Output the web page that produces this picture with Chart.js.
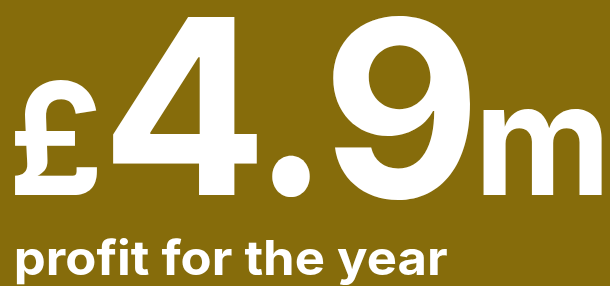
<!DOCTYPE html>
<html lang="en">
<head>
    <meta charset="UTF-8">
    <title>Profit for the year</title>
    <script src="https://cdn.jsdelivr.net/npm/chart.js"></script>
    <style>
        * { margin: 0; padding: 0; box-sizing: border-box; }
        body { background: #866c0b; overflow: hidden; }
        #wrap { position: relative; width: 610px; height: 286px; }
    </style>
</head>
<body>
    <div id="wrap"><canvas id="chart"></canvas></div>
    <script>
        // headline figure
        const prefix = ['£'];
        const figure = [4.9];
        const suffix = ['m'];
        const caption = ['profit for the year'];

        const bgColor = '#866c0b';

        // text pieces: font, ink left, ink width, baseline
        function pieces() {
            const num = figure[0].toFixed(1).split('');
            return [
                { t: prefix[0], font: '700 156px Inter', x: 15, w: 82, y: 195 },
                { t: num[0], font: '700 245px Inter', x: 113, w: 144, y: 195 },
                { t: num[1], font: '700 245px Inter', x: 272, w: 38, y: 195 },
                { t: num[2], font: '700 245px Inter', x: 333, w: 137, y: 197 },
                { t: suffix[0], font: '700 156px Inter', x: 483, w: 119, y: 195 },
                { t: caption[0], font: '700 48px Inter', x: 17, w: 430, y: 275 }
            ];
        }

        // draws the big number and the caption on top of an empty chart
        const headline = {
            id: 'headline',
            beforeDraw(chart) {
                const ctx = chart.ctx;
                ctx.save();
                ctx.fillStyle = bgColor;
                ctx.fillRect(0, 0, chart.width, chart.height);
                ctx.restore();
            },
            afterDraw(chart) {
                const ctx = chart.ctx;
                ctx.fillStyle = '#ffffff';
                ctx.textBaseline = 'alphabetic';
                ctx.textAlign = 'left';
                pieces().forEach(p => {
                    ctx.save();
                    ctx.font = p.font;
                    const m = ctx.measureText(p.t);
                    const ink = m.actualBoundingBoxLeft + m.actualBoundingBoxRight;
                    const sx = p.w / ink;
                    ctx.translate(p.x, p.y);
                    ctx.scale(sx, 1);
                    ctx.fillText(p.t, m.actualBoundingBoxLeft, 0);
                    ctx.restore();
                });
            }
        };

        new Chart(document.getElementById('chart'), {
            type: 'bar',
            data: { labels: [], datasets: [] },
            options: {
                responsive: true,
                maintainAspectRatio: false,
                animation: false,
                events: [],
                plugins: { legend: { display: false }, tooltip: { enabled: false } },
                scales: { x: { display: false }, y: { display: false } }
            },
            plugins: [headline]
        });
    </script>
</body>
</html>
